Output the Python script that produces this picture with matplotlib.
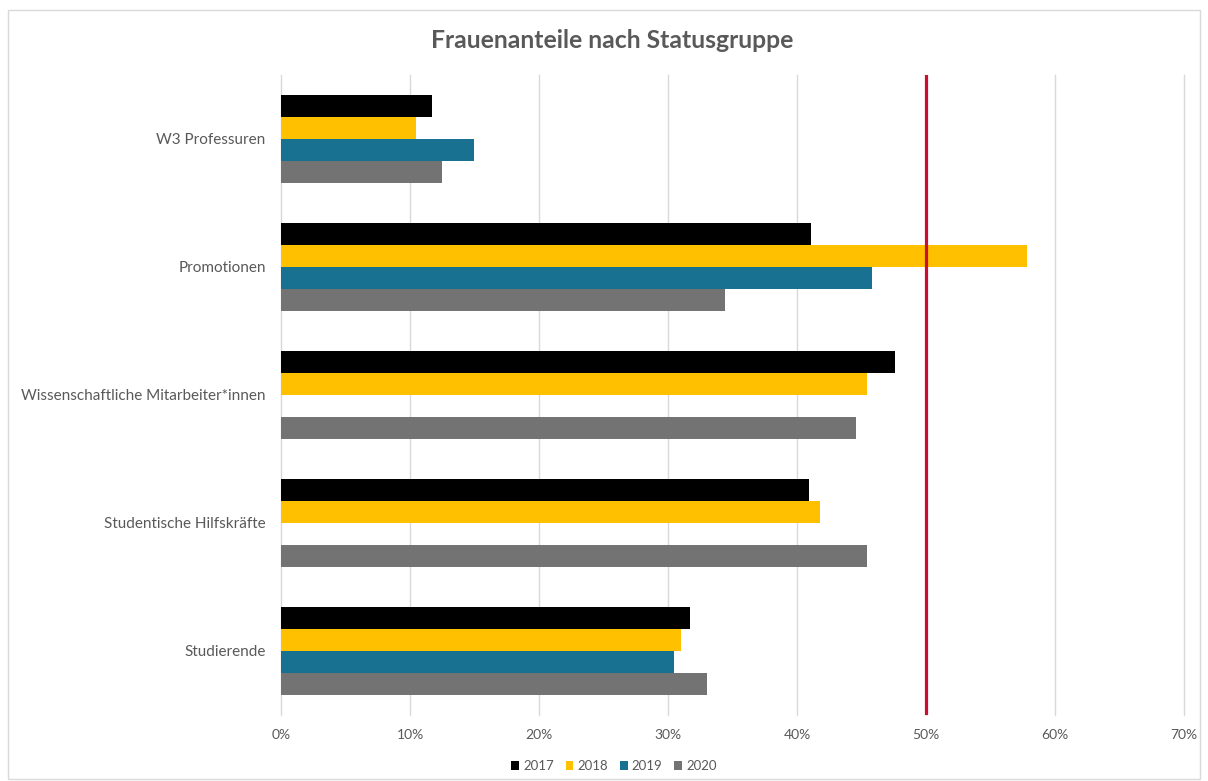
import numpy as np
import matplotlib
matplotlib.use("Agg")
import matplotlib.pyplot as plt
from matplotlib.ticker import FuncFormatter

plt.rcParams['font.family'] = ['Lato', 'DejaVu Sans']

categories = ["W3 Professuren", "Promotionen", "Wissenschaftliche Mitarbeiter*innen",
              "Studentische Hilfskräfte", "Studierende"]
years = ["2017", "2018", "2019", "2020"]
v2017 = [11.7, 41.1, 47.6, 40.9, 31.7]
v2018 = [10.45, 57.8, 45.4, 41.8, 31.0]
v2019 = [15.0, 45.8, 0.0, 0.0, 30.5]
v2020 = [12.5, 34.4, 44.6, 45.4, 33.0]
colors = ["#000000", "#FFC000", "#187191", "#737373"]
target = 50

fig = plt.figure(figsize=(12.08, 7.81), dpi=100)
ax = fig.add_axes([281 / 1208, 1 - 715 / 781, (1184 - 281) / 1208, (715 - 75) / 781])

ypos = np.arange(len(categories))[::-1]
h = 0.172
for i, (vals, col, yr) in enumerate(zip([v2017, v2018, v2019, v2020], colors, years)):
    ax.barh(ypos + (1.5 - i) * h, vals, height=h, color=col, label=yr, zorder=3)

ax.axvline(target, color="#C8102E", lw=2.3, zorder=4)

ax.set_xlim(0, 70)
ax.set_ylim(-0.5, 4.5)
ax.set_xticks(np.arange(0, 71, 10))
ax.xaxis.set_major_formatter(FuncFormatter(lambda x, p: f"{int(x)}%"))
ax.set_yticks(ypos)
ax.set_yticklabels(categories)
ax.grid(axis="x", color="#D9D9D9", lw=1, zorder=0)
for gl in ax.get_xgridlines():
    gl.set_clip_on(False)
for s in ax.spines.values():
    s.set_visible(False)
ax.tick_params(length=0, colors="#595959", labelsize=10)
ax.tick_params(axis="y", labelsize=11, pad=11)
ax.tick_params(axis="x", pad=10)

fig.text(612 / 1208, 1 - 40 / 781, "Frauenanteile nach Statusgruppe", ha="center", va="center",
         fontsize=17.8, fontweight="bold", color="#595959")

leg = fig.legend(loc="center", bbox_to_anchor=(614 / 1208, 1 - 766 / 781), ncol=4, frameon=False,
                 fontsize=9.5, handlelength=0.6, handleheight=0.6, handletextpad=0.3,
                 columnspacing=0.9, labelcolor="#595959")

fig.patches.append(plt.Rectangle((8 / 1208, 0.002), 1 - 16 / 1208, 1 - 10 / 781 - 0.002,
                                 transform=fig.transFigure, fill=False,
                                 edgecolor="#D9D9D9", lw=1))

fig.savefig("out.png", dpi=100)
